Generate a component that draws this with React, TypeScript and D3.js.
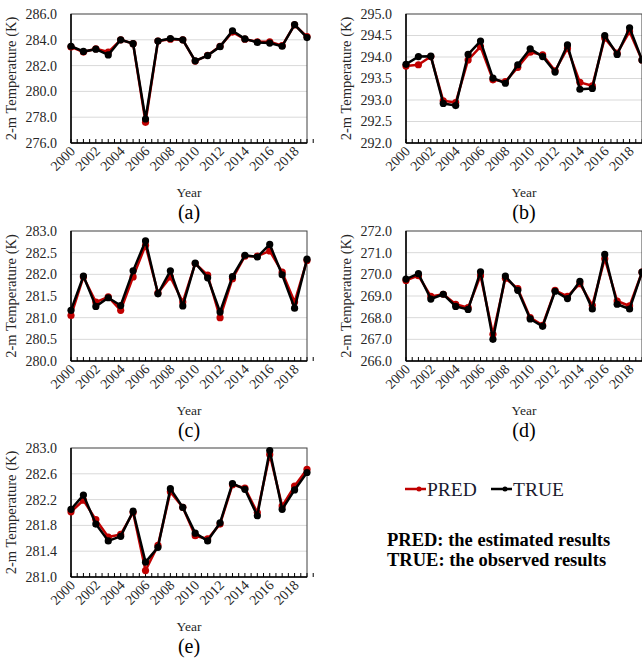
import React from "react";
import * as d3 from "d3";

const years = d3.range(2000, 2020);

const predA = [283.45, 283.05, 283.3, 283.05, 284.0, 283.7, 277.6, 283.9, 284.05, 284.0, 282.35, 282.8, 283.5, 284.6, 284.05, 283.85, 283.85, 283.55, 285.15, 284.25];
const trueA = [283.5, 283.1, 283.27, 282.83, 284.0, 283.7, 277.86, 283.9, 284.1, 284.0, 282.37, 282.78, 283.47, 284.7, 284.07, 283.8, 283.75, 283.5, 285.18, 284.17];

const predB = [293.79, 293.82, 294.01, 292.98, 292.94, 293.93, 294.24, 293.47, 293.43, 293.76, 294.11, 294.05, 293.68, 294.2, 293.41, 293.33, 294.44, 294.09, 294.59, 293.93];
const trueB = [293.83, 294.01, 294.02, 292.92, 292.87, 294.06, 294.37, 293.51, 293.39, 293.82, 294.19, 294.01, 293.65, 294.28, 293.25, 293.27, 294.5, 294.06, 294.68, 293.93];

const predC = [281.05, 281.94, 281.36, 281.48, 281.17, 281.94, 282.67, 281.57, 281.94, 281.36, 282.25, 281.98, 281.0, 281.9, 282.42, 282.42, 282.54, 282.05, 281.36, 282.32];
const trueC = [281.17, 281.96, 281.26, 281.46, 281.28, 282.08, 282.77, 281.55, 282.08, 281.27, 282.26, 281.92, 281.13, 281.95, 282.44, 282.4, 282.69, 281.99, 281.22, 282.35];

const predD = [269.72, 269.94, 268.98, 269.08, 268.62, 268.46, 269.94, 267.23, 269.82, 269.34, 268.0, 267.65, 269.26, 268.98, 269.57, 268.57, 270.72, 268.77, 268.54, 270.1];
const trueD = [269.78, 270.03, 268.86, 269.08, 268.52, 268.38, 270.12, 267.0, 269.92, 269.26, 267.94, 267.6, 269.22, 268.88, 269.68, 268.4, 270.92, 268.62, 268.4, 270.1];

const predE = [282.01, 282.19, 281.89, 281.62, 281.66, 282.0, 281.1, 281.49, 282.32, 282.08, 281.64, 281.59, 281.82, 282.43, 282.38, 282.0, 282.9, 282.1, 282.41, 282.67];
const trueE = [282.05, 282.27, 281.82, 281.56, 281.63, 282.02, 281.23, 281.46, 282.37, 282.08, 281.68, 281.56, 281.84, 282.45, 282.36, 281.95, 282.96, 282.05, 282.35, 282.62];

const ticksA = [276, 278, 280, 282, 284, 286];
const ticksB = [292, 292.5, 293, 293.5, 294, 294.5, 295];
const ticksC = [280, 280.5, 281, 281.5, 282, 282.5, 283];
const ticksD = [266, 267, 268, 269, 270, 271, 272];
const ticksE = [281.0, 281.4, 281.8, 282.2, 282.6, 283.0];

const seriesNames = ["PRED", "TRUE"];
const seriesColors = ["#c00000", "#000000"];
const yTitle = "2-m Temperature (K)";
const xTitle = "Year";
const notes = ["PRED: the estimated results", "TRUE: the observed results"];

const FONT = "Liberation Serif, Times New Roman, serif";

type PanelProps = {
  left: number; top: number; width: number; height: number;
  ticks: number[]; pred: number[]; truth: number[]; label: string; fmt: string;
};

function Panel({ left, top, width, height, ticks, pred, truth, label, fmt }: PanelProps) {
  const x = d3.scaleLinear().domain([2000, 2019]).range([left, left + width]);
  const y = d3.scaleLinear().domain([ticks[0], ticks[ticks.length - 1]]).range([top + height, top]);
  const bottom = top + height;
  const line = d3.line<number>().x((_, i) => x(years[i])).y((v) => y(v));
  const f = d3.format(fmt);
  const minor = d3.range(2000, 2019.51, 0.5);
  const labelYears = years.filter((yr) => yr % 2 === 0);
  const cx = left + width / 2;
  return (
    <g>
      {ticks.slice(1, -1).map((t) => (
        <line key={"g" + t} x1={left} x2={left + width} y1={y(t)} y2={y(t)} stroke="#d9d9d9" strokeWidth={1} />
      ))}
      <rect x={left} y={top} width={width} height={height} fill="none" stroke="#404040" strokeWidth={1} />
      <line x1={left} x2={left} y1={top} y2={bottom} stroke="#000" strokeWidth={1.5} />
      <line x1={left} x2={left + width} y1={bottom} y2={bottom} stroke="#000" strokeWidth={1.5} />
      {minor.map((m) => (
        <line key={"m" + m} x1={x(m)} x2={x(m)} y1={bottom} y2={bottom - 4} stroke="#000" strokeWidth={1} />
      ))}
      {ticks.map((t) => (
        <text key={"t" + t} x={left - 14} y={y(t)} dy="0.35em" textAnchor="end" fontFamily={FONT} fontSize={14} fill="#262626">
          {f(t)}
        </text>
      ))}
      {labelYears.map((yr) => (
        <text key={"x" + yr} transform={`translate(${x(yr) + 5},${bottom + 9}) rotate(-45)`} textAnchor="end" fontFamily={FONT} fontSize={14} fill="#262626">
          {yr}
        </text>
      ))}
      <text transform={`translate(${left - 55},${top + height / 2}) rotate(-90)`} textAnchor="middle" fontFamily={FONT} fontSize={14.5} fill="#262626">
        {yTitle}
      </text>
      <text x={cx} y={bottom + 54} textAnchor="middle" fontFamily={FONT} fontSize={13.5} fill="#262626">
        {xTitle}
      </text>
      <text x={cx} y={bottom + 76} textAnchor="middle" fontFamily={FONT} fontSize={20} fill="#000">
        {label}
      </text>
      {[pred, truth].map((vals, si) => (
        <g key={"s" + si}>
          <path d={line(vals) || ""} fill="none" stroke={seriesColors[si]} strokeWidth={2.5} strokeLinejoin="round" />
          {vals.map((v, i) => (
            <circle key={i} cx={x(years[i])} cy={y(v)} r={3.6} fill={seriesColors[si]} />
          ))}
        </g>
      ))}
    </g>
  );
}

export default function App() {
  return (
    <svg width={642} height={660} style={{ position: "absolute", left: 0, top: 0, background: "#fff" }} fontFamily={FONT}>
      <rect x={0} y={0} width={642} height={660} fill="#fff" />
      <Panel left={71} top={14} width={236} height={129} ticks={ticksA} pred={predA} truth={trueA} label="(a)" fmt=".1f" />
      <Panel left={406} top={14} width={236} height={129} ticks={ticksB} pred={predB} truth={trueB} label="(b)" fmt=".1f" />
      <Panel left={71} top={231} width={236} height={130} ticks={ticksC} pred={predC} truth={trueC} label="(c)" fmt=".1f" />
      <Panel left={406} top={231} width={236} height={130} ticks={ticksD} pred={predD} truth={trueD} label="(d)" fmt=".1f" />
      <Panel left={71} top={448} width={236} height={129} ticks={ticksE} pred={predE} truth={trueE} label="(e)" fmt=".1f" />
      <g>
        {seriesNames.map((name, i) => {
          const lx = i === 0 ? 405 : 491;
          return (
            <g key={name}>
              <line x1={lx} x2={lx + 21} y1={489} y2={489} stroke={seriesColors[i]} strokeWidth={2.5} />
              <circle cx={lx + 14} cy={489} r={2.5} fill={seriesColors[i]} />
              <text x={lx + 22} y={496} fontFamily={FONT} fontSize={19.5} fill="#1a1a2e">
                {name}
              </text>
            </g>
          );
        })}
        {notes.map((n, i) => (
          <text key={n} x={387} y={546 + i * 20} fontFamily={FONT} fontSize={18.5} fontWeight="bold" fill="#000">
            {n}
          </text>
        ))}
      </g>
    </svg>
  );
}
